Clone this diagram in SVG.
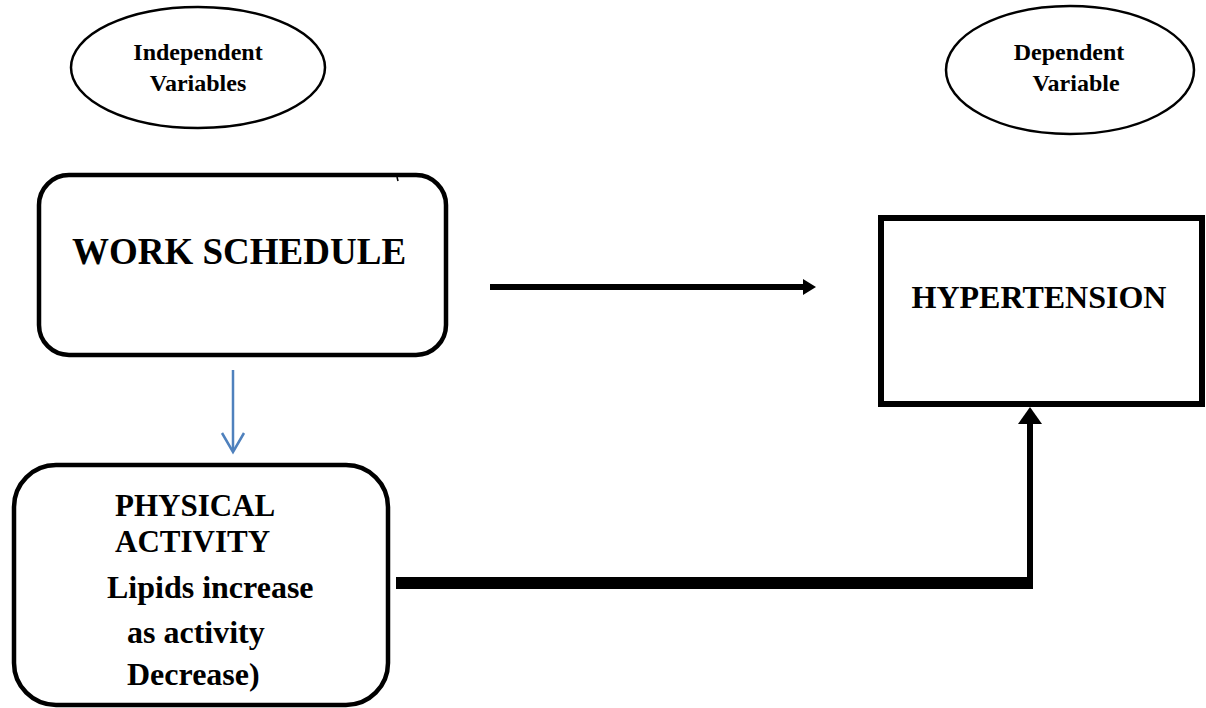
<svg xmlns="http://www.w3.org/2000/svg" width="1206" height="708" viewBox="0 0 1206 708">
<style>
.t{font-family:"Liberation Serif","Times New Roman",serif;font-weight:bold;fill:#000}
.ell{fill:#fff;stroke:#000;stroke-width:2.5}
.box{fill:#fff;stroke:#000;stroke-width:4.5}
</style>
<rect width="1206" height="708" fill="#fff"/>
<g id="independent-variables">
<ellipse class="ell" cx="198" cy="67.5" rx="127" ry="60.5"/>
<text class="t" x="198" y="60" font-size="24" text-anchor="middle">Independent</text>
<text class="t" x="198" y="91" font-size="24" text-anchor="middle">Variables</text>
</g>
<g id="dependent-variable">
<ellipse class="ell" cx="1070" cy="70" rx="124" ry="64"/>
<text class="t" x="1069" y="60" font-size="24" text-anchor="middle">Dependent</text>
<text class="t" x="1076" y="91" font-size="24" text-anchor="middle">Variable</text>
</g>
<g id="work-schedule">
<rect class="box" x="39" y="175" width="407" height="180" rx="30" ry="30"/>
<line x1="397" y1="177" x2="398" y2="181" stroke="#000" stroke-width="1.5"/>
<text class="t" x="72" y="264" font-size="37">WORK SCHEDULE</text>
</g>
<g id="hypertension">
<rect x="881" y="218" width="321" height="186" fill="#fff" stroke="#000" stroke-width="6"/>
<text class="t" x="1039" y="308" font-size="32" text-anchor="middle">HYPERTENSION</text>
</g>
<g id="physical-activity">
<rect class="box" x="14" y="465" width="374" height="240" rx="42" ry="42"/>
<text class="t" x="115" y="516" font-size="31">PHYSICAL</text>
<text class="t" x="115" y="552" font-size="31">ACTIVITY</text>
<text class="t" x="107" y="598" font-size="32">Lipids increase</text>
<text class="t" x="127" y="643" font-size="32">as activity</text>
<text class="t" x="127" y="685" font-size="32">Decrease)</text>
</g>
<g id="connectors">
<line x1="490" y1="287" x2="805" y2="287" stroke="#000" stroke-width="6"/>
<polygon points="803,279 816,287 803,295" fill="#000"/>
<line x1="233" y1="370" x2="233" y2="451" stroke="#4F81BD" stroke-width="2.5"/>
<polyline points="222,433 233,452 244,433" fill="none" stroke="#4F81BD" stroke-width="2.5"/>
<rect x="396" y="577" width="637" height="12" fill="#000"/>
<line x1="1030" y1="589" x2="1030" y2="422" stroke="#000" stroke-width="6"/>
<polygon points="1018,424 1030,407 1042,424" fill="#000"/>
</g>
</svg>
